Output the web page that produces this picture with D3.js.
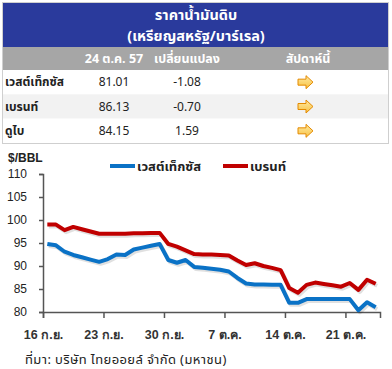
<!DOCTYPE html>
<html>
<head>
<meta charset="utf-8">
<script src="https://cdn.jsdelivr.net/npm/d3@7"></script>
<style>
    body { margin: 0; background: #fff; }
    svg { display: block; font-family: Tahoma, "Noto Sans Thai", "Noto Sans", sans-serif; }
</style>
</head>
<body>
<svg width="392" height="369"></svg>
<script>
// table data
const titleLines = ["ราคาน้ำมันดิบ", "(เหรียญสหรัฐ/บาร์เรล)"];
const headers = ["24 ต.ค. 57", "เปลี่ยนแปลง", "สัปดาห์นี้"];
const crudeNames = ["เวสต์เท็กซัส", "เบรนท์", "ดูไบ"];
const prices = ["81.01", "86.13", "84.15"];
const changes = ["-1.08", "-0.70", "1.59"];

// chart data, daily from 16 Sep
const seriesNames = ["เวสต์เท็กซัส", "เบรนท์"];
const wti = [94.8, 94.5, 93.1, 92.4, 91.9, 91.4, 90.9, 91.5, 92.5, 92.4,
    93.6, 94.0, 94.4, 94.8, 91.3, 90.7, 91.3, 89.8, 89.6, 89.4,
    89.2, 88.8, 87.4, 86.2, 86.0, 86.0, 85.9, 85.9, 82.0, 82.0,
    82.8, 82.8, 82.8, 82.8, 82.8, 82.8, 80.4, 82.1, 81.01];
const brent = [99.0, 99.0, 97.8, 98.5, 98.0, 97.5, 97.0, 97.0, 97.0, 97.0,
    97.1, 97.1, 97.2, 97.2, 94.8, 94.2, 93.4, 92.6, 92.5, 92.5,
    92.4, 92.3, 91.2, 90.2, 90.6, 90.0, 89.6, 89.1, 85.2, 84.2,
    85.9, 86.4, 86.1, 85.8, 85.5, 86.3, 84.8, 87.0, 86.13];
const yTicks = [80, 85, 90, 95, 100, 105, 110];
const xTickLabels = ["16 ก.ย.", "23 ก.ย.", "30 ก.ย.", "7 ต.ค.", "14 ต.ค.", "21 ต.ค."];
const colors = ["#0a72c6", "#c00000"];

const svg = d3.select("svg");

// ---- table ----
const tableLeft = 3, tableRight = 388;
svg.append("rect").attr("x", tableLeft).attr("y", 3).attr("width", tableRight - tableLeft).attr("height", 44)
    .attr("fill", "#2a3a9c");
titleLines.forEach((t, i) => {
    svg.append("text").attr("x", 196).attr("y", 15 + i * 21).attr("dy", "0.35em")
        .attr("text-anchor", "middle").attr("fill", "#fff").attr("font-size", 14.5).attr("font-weight", "bold")
        .text(t);
});
svg.append("rect").attr("x", tableLeft).attr("y", 47).attr("width", tableRight - tableLeft).attr("height", 23)
    .attr("fill", "#a6a6a6");
const colX = [114, 187, 308];
headers.forEach((h, i) => {
    svg.append("text").attr("x", colX[i]).attr("y", 59).attr("dy", "0.35em")
        .attr("text-anchor", "middle").attr("fill", "#fff").attr("font-size", 12.5).attr("font-weight", "bold")
        .text(h);
});

const rowY = d3.scaleBand().domain(d3.range(crudeNames.length)).range([70, 143]);
const rows = svg.append("g").selectAll("g").data(crudeNames).join("g")
    .attr("transform", (d, i) => `translate(0,${rowY(i)})`);
rows.append("rect").attr("x", tableLeft).attr("width", tableRight - tableLeft).attr("height", rowY.bandwidth())
    .attr("fill", (d, i) => (i % 2 ? "#f2f2f2" : "#fff"));
const mid = rowY.bandwidth() / 2;
rows.append("text").attr("x", 5).attr("y", mid).attr("dy", "0.35em")
    .attr("font-size", 12).attr("font-weight", "bold").attr("fill", "#222").text(d => d);
rows.append("text").attr("x", colX[0]).attr("y", mid).attr("dy", "0.35em").attr("text-anchor", "middle")
    .attr("font-size", 12).attr("fill", "#222").text((d, i) => prices[i]);
rows.append("text").attr("x", colX[1]).attr("y", mid).attr("dy", "0.35em").attr("text-anchor", "middle")
    .attr("font-size", 12).attr("fill", "#222").text((d, i) => changes[i]);

const defs = svg.append("defs");
const grad = defs.append("linearGradient").attr("id", "arrowFill").attr("x1", 0).attr("y1", 0).attr("x2", 0).attr("y2", 1);
grad.append("stop").attr("offset", "0%").attr("stop-color", "#ffe9a0");
grad.append("stop").attr("offset", "100%").attr("stop-color", "#f7c244");
rows.append("path")
    .attr("transform", `translate(298,${mid})`)
    .attr("d", "M0,-3 L8,-3 L8,-6.5 L15,0 L8,6.5 L8,3 L0,3 Z")
    .attr("fill", "url(#arrowFill)").attr("stroke", "#e48a00").attr("stroke-width", 1);

svg.append("rect").attr("x", tableLeft - 0.5).attr("y", 2.5).attr("width", tableRight - tableLeft + 1).attr("height", 141)
    .attr("fill", "none").attr("stroke", "#cfcfcf");

// ---- chart ----
const start = new Date(2014, 8, 16);
const days = wti.map((d, i) => d3.timeDay.offset(start, i));
const x = d3.scaleTime().domain([start, d3.timeDay.offset(start, wti.length)]).range([43, 380]);
const y = d3.scaleLinear().domain([80, 110]).range([312, 174]);
const xc = d => new Date(+d + 12 * 3600 * 1000);

const yAxis = svg.append("g").attr("transform", "translate(43,0)")
    .call(d3.axisLeft(y).tickValues(yTicks).tickSize(4).tickPadding(12));
const xTicks = d3.range(0, 42, 7).map(i => d3.timeDay.offset(start, i));
const xAxis = svg.append("g").attr("transform", "translate(0,312)")
    .call(d3.axisBottom(x).tickValues(xTicks).tickSize(6).tickPadding(12)
        .tickFormat((d, i) => xTickLabels[i]));
[yAxis, xAxis].forEach(a => {
    a.select(".domain").attr("stroke", "#555").attr("stroke-width", 1.5);
    a.selectAll(".tick line").attr("stroke", "#555").attr("stroke-width", 1.5);
    a.selectAll("text").attr("fill", "#222").attr("font-size", 12).attr("font-family", "Arial, 'Liberation Sans', sans-serif");
});
yAxis.selectAll("text").attr("x", -16);
xAxis.selectAll("text").attr("font-family", null).attr("font-size", 12.5).attr("font-weight", "bold").attr("fill", "#333");

svg.append("text").attr("x", 8).attr("y", 158).attr("dy", "0.35em").attr("font-weight", "bold")
    .attr("font-size", 12).attr("font-family", "Arial, 'Liberation Sans', sans-serif").attr("fill", "#222").text("$/BBL");

const line = d3.line().x((d, i) => x(xc(days[i]))).y(d => y(d));
[wti, brent].forEach((s, k) => {
    svg.append("path").datum(s).attr("d", line).attr("fill", "none")
        .attr("stroke", "#000").attr("stroke-opacity", 0.12).attr("stroke-width", 4)
        .attr("transform", "translate(1.5,2)").attr("stroke-linejoin", "round");
    svg.append("path").datum(s).attr("d", line).attr("fill", "none")
        .attr("stroke", colors[k]).attr("stroke-width", 4).attr("stroke-linejoin", "round");
});

// legend
const legendX = [110, 223];
seriesNames.forEach((n, k) => {
    svg.append("line").attr("x1", legendX[k]).attr("x2", legendX[k] + 25).attr("y1", 166).attr("y2", 166)
        .attr("stroke", colors[k]).attr("stroke-width", 4);
    svg.append("text").attr("x", legendX[k] + 27).attr("y", 166).attr("dy", "0.35em")
        .attr("font-size", 13).attr("font-weight", "bold").attr("fill", "#222").text(n);
});

svg.append("text").attr("x", 25).attr("y", 359).attr("dy", "0.35em")
    .attr("font-size", 13).attr("letter-spacing", 0.4).attr("fill", "#222").text("ที่มา: บริษัท ไทยออยล์ จำกัด (มหาชน)");
</script>
</body>
</html>
